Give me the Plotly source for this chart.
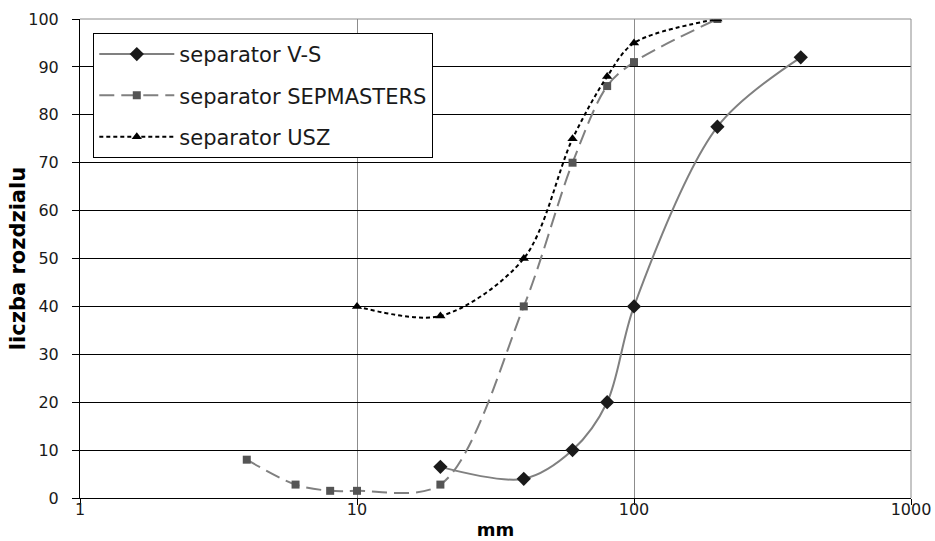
import plotly.graph_objects as go

vs_x = [20, 40, 60, 80, 100, 200, 400]
vs_y = [6.5, 4, 10, 20, 40, 77.5, 92]

sep_x = [4, 6, 8, 10, 20, 40, 60, 80, 100, 200]
sep_y = [8, 2.8, 1.5, 1.5, 2.8, 40, 70, 86, 91, 100]

usz_x = [10, 20, 40, 60, 80, 100, 200]
usz_y = [40, 38, 50, 75, 88, 95, 100]

x_ticks = [1, 10, 100, 1000]
y_ticks = list(range(0, 101, 10))

FONT = "DejaVu Sans, Liberation Sans, Arial, sans-serif"
TXT = "#1a1a1a"

fig = go.Figure()
fig.add_trace(go.Scatter(
    x=vs_x, y=vs_y, mode="lines+markers", name="separator V-S", legendgroup="a",
    line=dict(color="#808080", width=2, shape="spline", smoothing=0.9),
    marker=dict(symbol="diamond", size=11, color="#1a1a1a"),
))
fig.add_trace(go.Scatter(
    x=sep_x, y=sep_y, mode="lines+markers", name="separator SEPMASTERS", legendgroup="b",
    line=dict(color="#808080", width=2, shape="spline", smoothing=0.9, dash="15px,7px"),
    marker=dict(symbol="square", size=8, color="#555555"),
))
fig.add_trace(go.Scatter(
    x=usz_x, y=usz_y, mode="lines+markers", name="separator USZ", legendgroup="c",
    line=dict(color="#000000", width=2, shape="spline", smoothing=0.9, dash="4px,3px"),
    marker=dict(symbol="triangle-up", size=9, color="#000000"),
))

fig.update_layout(
    width=935, height=541,
    margin=dict(l=80, r=24, t=19, b=43, autoexpand=False),
    paper_bgcolor="white", plot_bgcolor="white",
    font=dict(family=FONT, size=16, color=TXT),
    showlegend=True,
    hovermode=False,
    legend=dict(
        x=0.016, y=0.971, xanchor="left", yanchor="top",
        bgcolor="white", bordercolor="#000000", borderwidth=1,
        font=dict(family=FONT, size=21, color=TXT),
        traceorder="grouped", tracegroupgap=11, itemwidth=75,
    ),
    xaxis=dict(
        type="log", range=[0, 3],
        tickvals=x_ticks, ticktext=[str(v) for v in x_ticks],
        showgrid=True, gridcolor="#8c8c8c", gridwidth=1,
        showline=True, linecolor="#000000", linewidth=1,
        ticks="outside", ticklen=6, tickcolor="#000000",
        zeroline=False, automargin=False, ticklabelstandoff=-9,
        tickfont=dict(family=FONT, size=16, color=TXT),
        title=dict(text="<b>mm</b>", font=dict(family=FONT, size=18, color="#000000"), standoff=5),
    ),
    yaxis=dict(
        range=[0, 100], tickvals=y_ticks,
        showgrid=True, gridcolor="#000000", gridwidth=1,
        showline=True, linecolor="#000000", linewidth=1,
        ticks="outside", ticklen=7, tickcolor="#000000",
        zeroline=False, automargin=False, ticklabelstandoff=10,
        tickfont=dict(family=FONT, size=16, color=TXT),
    ),
    annotations=[dict(
        text="<b>liczba rozdzialu</b>", xref="paper", yref="paper",
        x=-0.075, y=0.5, xanchor="center", yanchor="middle", textangle=-90,
        showarrow=False, font=dict(family=FONT, size=21, color="#000000"),
    )],
)

# gray border on top and right
fig.add_shape(type="line", xref="paper", yref="paper", x0=0, x1=1, y0=1, y1=1,
              line=dict(color="#8c8c8c", width=1))
fig.add_shape(type="line", xref="paper", yref="paper", x0=1, x1=1, y0=0, y1=1,
              line=dict(color="#8c8c8c", width=1))

fig.write_html(
    "out.html",
    config={"displayModeBar": False},
    post_script="document.body.style.margin='0';document.body.style.overflow='hidden';",
)
